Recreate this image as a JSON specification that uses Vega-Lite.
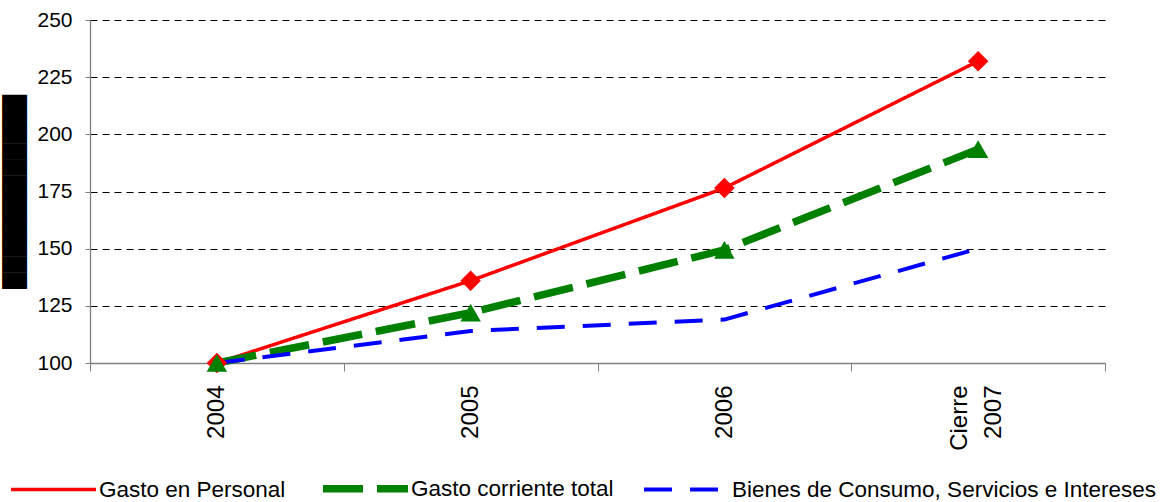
{
  "$schema": "https://vega.github.io/schema/vega-lite/v6.json",
  "width": 1015,
  "height": 343,
  "autosize": {"type": "none"},
  "padding": {"left": 90, "top": 20, "right": 56, "bottom": 139},
  "background": "white",
  "config": {"view": {"stroke": null}, "font": "Liberation Sans"},
  "data": {
    "values": [
      {"serie": "Gasto en Personal", "periodo": "2004", "valor": 100},
      {"serie": "Gasto en Personal", "periodo": "2005", "valor": 136},
      {"serie": "Gasto en Personal", "periodo": "2006", "valor": 176.5},
      {"serie": "Gasto en Personal", "periodo": "Cierre 2007", "valor": 232},
      {"serie": "Gasto corriente total", "periodo": "2004", "valor": 100},
      {"serie": "Gasto corriente total", "periodo": "2005", "valor": 122},
      {"serie": "Gasto corriente total", "periodo": "2006", "valor": 149.5},
      {"serie": "Gasto corriente total", "periodo": "Cierre 2007", "valor": 193.5},
      {"serie": "Bienes de Consumo, Servicios e Intereses", "periodo": "2004", "valor": 100},
      {"serie": "Bienes de Consumo, Servicios e Intereses", "periodo": "2005", "valor": 114},
      {"serie": "Bienes de Consumo, Servicios e Intereses", "periodo": "2006", "valor": 119},
      {"serie": "Bienes de Consumo, Servicios e Intereses", "periodo": "Cierre 2007", "valor": 150}
    ]
  },
  "layer": [
    {
      "mark": {"type": "line", "strokeCap": "butt"},
      "encoding": {
        "x": {
          "field": "periodo", "type": "nominal", "sort": null,
          "scale": {"type": "band", "paddingInner": 0, "paddingOuter": 0},
          "axis": {
            "title": null, "labelAngle": -90, "labelFontSize": 24, "labelColor": "black",
            "tickBand": "extent", "tickSize": 8, "tickColor": "#808080", "domainColor": "#808080",
            "domainWidth": 1.3, "labelPadding": 14, "labelLineHeight": 34, "grid": false,
            "labelOffset": {"condition": {"test": "datum.value == 'Cierre 2007'", "value": -19}, "value": 0},
            "labelExpr": "datum.value == 'Cierre 2007' ? ['Cierre', '2007'] : datum.value"
          }
        },
        "y": {
          "field": "valor", "type": "quantitative",
          "scale": {"domain": [100, 250], "nice": false, "zero": false},
          "axis": {
            "values": [100, 125, 150, 175, 200, 225, 250],
            "labelFontSize": 21, "labelColor": "black", "labelPadding": 13,
            "tickSize": 5, "tickColor": "#808080", "domainColor": "#808080", "domainWidth": 1.3,
            "grid": true, "gridColor": "black", "gridDash": [7, 5], "gridWidth": 1,
            "title": "████████████", "titleFont": "DejaVu Sans", "titleFontSize": 21,
            "titleFontWeight": "normal", "titleColor": "black", "titlePadding": 11
          }
        },
        "color": {
          "field": "serie", "type": "nominal", "sort": null,
          "scale": {
            "domain": ["Gasto en Personal", "Gasto corriente total", "Bienes de Consumo, Servicios e Intereses"],
            "range": ["#ff0000", "#008000", "#0000ff"]
          },
          "legend": {
            "title": null, "orient": "none", "legendX": -83, "legendY": 422,
            "direction": "horizontal", "columns": 3, "columnPadding": 22,
            "symbolType": "stroke", "symbolSize": 7225, "labelFontSize": 22.5,
            "labelOffset": -1, "labelLimit": 0, "labelColor": "black"
          }
        },
        "strokeDash": {
          "field": "serie", "type": "nominal", "sort": null,
          "scale": {
            "domain": ["Gasto en Personal", "Gasto corriente total", "Bienes de Consumo, Servicios e Intereses"],
            "range": [[1, 0], [40, 14], [28, 18]]
          }
        },
        "strokeWidth": {
          "field": "serie", "type": "nominal", "sort": null,
          "scale": {
            "type": "ordinal",
            "domain": ["Gasto en Personal", "Gasto corriente total", "Bienes de Consumo, Servicios e Intereses"],
            "range": [3.5, 7.5, 4]
          }
        }
      }
    },
    {
      "transform": [{"filter": "datum.serie != 'Bienes de Consumo, Servicios e Intereses'"}],
      "mark": {"type": "point", "filled": true, "opacity": 1, "size": 420},
      "encoding": {
        "x": {"field": "periodo", "type": "nominal", "sort": null},
        "y": {"field": "valor", "type": "quantitative"},
        "shape": {
          "field": "serie", "type": "nominal",
          "scale": {"domain": ["Gasto en Personal", "Gasto corriente total"], "range": ["diamond", "triangle-up"]},
          "legend": null
        },
        "fill": {
          "field": "serie", "type": "nominal",
          "scale": {"domain": ["Gasto en Personal", "Gasto corriente total"], "range": ["#ff0000", "#008000"]},
          "legend": null
        }
      }
    }
  ]
}
